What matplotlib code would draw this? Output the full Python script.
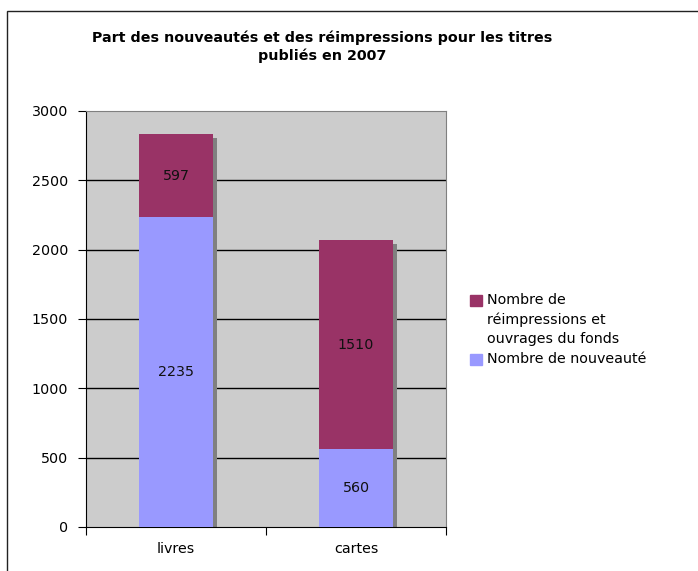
import matplotlib.pyplot as plt
import matplotlib.transforms as mtransforms
from matplotlib.patches import Rectangle

categories = ['livres', 'cartes']
nouveautes = [2235, 560]
reimpressions = [597, 1510]
yticks = [0, 500, 1000, 1500, 2000, 2500, 3000]

title = "Part des nouveautés et des réimpressions pour les titres\npubliés en 2007"
label_reimp = "Nombre de\nréimpressions et\nouvrages du fonds"
label_nouv = "Nombre de nouveauté"

c_nouv = '#9999ff'
c_reimp = '#993366'
fs = 10.3

fig = plt.figure(figsize=(6.98, 5.71), dpi=100)
ax = fig.add_axes([86 / 698, 44 / 571, 360 / 698, 416 / 571])
ax.set_facecolor('#cccccc')

# outer chart frame
fig.patches.append(Rectangle((7 / 698, -0.05), 1.0, (560 / 571) + 0.05,
                             transform=fig.transFigure, fill=False,
                             edgecolor='#222222', linewidth=1.0))

x = list(range(len(categories)))
w = 0.41
totals = [a + b for a, b in zip(nouveautes, reimpressions)]

# shadow
shadow = mtransforms.offset_copy(ax.transData, fig=fig, x=4, y=-4, units='dots')
ax.bar(x, totals, width=w, color='#808080', transform=shadow, zorder=2)

ax.bar(x, nouveautes, width=w, color=c_nouv, zorder=3)
ax.bar(x, reimpressions, width=w, bottom=nouveautes, color=c_reimp, zorder=3)

for i in x:
    ax.text(i, nouveautes[i] / 2, str(nouveautes[i]), ha='center', va='center',
            fontsize=fs, color='#111111', zorder=4)
    ax.text(i, nouveautes[i] + reimpressions[i] / 2, str(reimpressions[i]),
            ha='center', va='center', fontsize=fs, color='#111111', zorder=4)

ax.set_xlim(-0.5, 1.5)
ax.set_ylim(0, 3000)
ax.set_yticks(yticks)
ax.tick_params(axis='y', direction='out', length=6, labelsize=fs, pad=7)
for yv in yticks[1:-1]:
    ax.axhline(yv, color='black', linewidth=1, zorder=1)

ax.set_xticks([-0.5, 0.5, 1.5])
ax.set_xticklabels([])
ax.tick_params(axis='x', direction='out', length=6)
ax.set_xticks(x, minor=True)
ax.set_xticklabels(categories, minor=True)
ax.tick_params(axis='x', which='minor', length=0, labelsize=fs, pad=11)

ax.spines['left'].set_color('black')
ax.spines['bottom'].set_color('black')
ax.spines['top'].set_color('#808080')
ax.spines['right'].set_color('#808080')

fig.text(322 / 698, 1 - 47 / 571, title, ha='center', va='center',
         fontsize=fs, fontweight='bold', linespacing=1.3)

# legend, square aligned with the first text line
legend_items = [(label_reimp, c_reimp, 295), (label_nouv, c_nouv, 354)]
for lab, col, ytop in legend_items:
    fig.patches.append(Rectangle((470 / 698, 1 - (ytop + 11) / 571), 12 / 698, 11 / 571,
                                 transform=fig.transFigure, color=col))
    fig.text(487 / 698, 1 - (ytop - 2) / 571, lab, ha='left', va='top',
             fontsize=fs, linespacing=1.45)

fig.savefig('out.png', dpi=100)
